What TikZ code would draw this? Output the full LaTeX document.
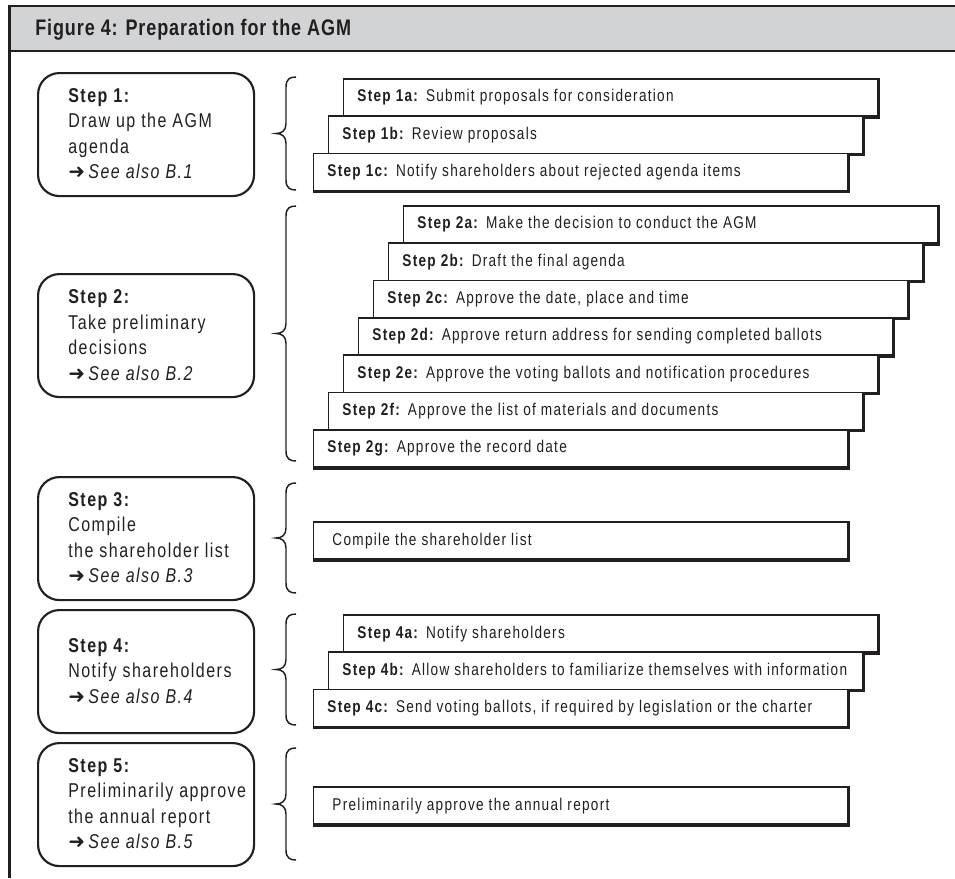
\documentclass[tikz,border=0pt]{standalone}
\usepackage{fontspec}
\setmainfont{Liberation Sans}[FakeStretch=0.8,LetterSpace=7.5]
\newfontfamily\titlefont{Liberation Sans}[FakeStretch=0.8,LetterSpace=4]
\newfontfamily\arrowfont{DejaVu Sans}
\definecolor{ink}{HTML}{231F20}
\definecolor{barfill}{HTML}{D1D3D4}

% "see also" reference line with a heavy arrow
\newcommand{\seealso}[1]{{\arrowfont ➜}\,\textit{See also #1}}
% text of a sub-step box, left aligned in a fixed-width slot
\newcommand{\substep}[2]{\makebox[379.5pt][l]{\textbf{#1} #2}}
% sub-step box with a heavier right and bottom edge
\newcommand{\subnode}[5]{%
  \node[subbox] (#1) at (#2,#3) {\substep{#4}{#5}};
  \draw[subshadow] ([xshift=0.6pt]#1.north east) -- ([xshift=0.6pt,yshift=-0.6pt]#1.south east) -- ([yshift=-0.6pt]#1.south west);
}
% curly brace opening to the right, from y=#1 to y=#2
\newcommand{\curlybrace}[2]{%
  \pgfmathsetmacro{\bmid}{(#1+#2)/2}
  \draw[bracestyle] (296,#1) .. controls (290,#1) and (286,#1+2) .. (286,#1+10)
    -- (286,\bmid-10) .. controls (286,\bmid-3) and (282,\bmid) .. (276,\bmid)
    .. controls (282,\bmid) and (286,\bmid+3) .. (286,\bmid+10)
    -- (286,#2-10) .. controls (286,#2-2) and (290,#2) .. (296,#2);
}

\tikzset{
  stepbox/.style={draw=ink, line width=1.6pt, rounded corners=16pt, minimum width=162pt,
    minimum height=92.25pt, inner sep=0pt, anchor=north west},
  steptext/.style={anchor=west, align=left, inner sep=0pt, text=ink,
    font=\fontsize{15}{19.1}\selectfont},
  subbox/.style={draw=ink, fill=white, line width=1.4pt, minimum height=28pt,
    inner xsep=10.5pt, inner ysep=0pt, anchor=north west, text=ink,
    font=\fontsize{12.75}{14}\selectfont},
  subshadow/.style={draw=ink, line width=1.2pt},
  bracestyle/.style={draw=ink, line width=1.1pt},
}

\begin{document}
\begin{tikzpicture}[x=0.75pt,y=-0.75pt]
\useasboundingbox (0,0) rectangle (955,878);

% frame and title bar
\fill[barfill] (9.5,6) rectangle (955,51);
\draw[ink, line width=1.9pt] (955,6) -- (9.5,6) -- (9.5,878);
\draw[ink, line width=1.9pt] (9.5,51) -- (955,51);
\node[anchor=base west, inner sep=0pt, text=ink,
  font=\titlefont\bfseries\fontsize{16.9}{19}\selectfont] (title) at (35,35)
  {Figure 4: Preparation for the AGM};

% main steps
\node[stepbox] (s1box) at (37,72) {};
\node[steptext] (s1text) at (68,133.5) {\textbf{Step 1:}\\Draw up the AGM\\agenda\\\seealso{B.1}};
\node[stepbox] (s2box) at (37,273) {};
\node[steptext] (s2text) at (68,335) {\textbf{Step 2:}\\Take preliminary\\decisions\\\seealso{B.2}};
\node[stepbox] (s3box) at (37,476) {};
\node[steptext] (s3text) at (68,537.5) {\textbf{Step 3:}\\Compile\\the shareholder list\\\seealso{B.3}};
\node[stepbox] (s4box) at (37,609) {};
\node[steptext] (s4text) at (68,671) {\textbf{Step 4:}\\Notify shareholders\\\seealso{B.4}};
\node[stepbox] (s5box) at (37,742) {};
\node[steptext] (s5text) at (68,803.5) {\textbf{Step 5:}\\Preliminarily approve\\the annual report\\\seealso{B.5}};

% braces
\curlybrace{77}{190}
\curlybrace{206}{461}
\curlybrace{483}{593}
\curlybrace{614}{725}
\curlybrace{748}{860}

% sub-steps of step 1
\subnode{s1a}{342.5}{78}{Step 1a:}{Submit proposals for consideration}
\subnode{s1b}{327.5}{115.3}{Step 1b:}{Review proposals}
\subnode{s1c}{312.5}{152.6}{Step 1c:}{Notify shareholders about rejected agenda items}

% sub-steps of step 2
\subnode{s2a}{402.5}{205}{Step 2a:}{Make the decision to conduct the AGM}
\subnode{s2b}{387.5}{242.3}{Step 2b:}{Draft the final agenda}
\subnode{s2c}{372.5}{279.6}{Step 2c:}{Approve the date, place and time}
\subnode{s2d}{357.5}{316.9}{Step 2d:}{Approve return address for sending completed ballots}
\subnode{s2e}{342.5}{354.2}{Step 2e:}{Approve the voting ballots and notification procedures}
\subnode{s2f}{327.5}{391.5}{Step 2f:}{Approve the list of materials and documents}
\subnode{s2g}{312.5}{428.8}{Step 2g:}{Approve the record date}

% step 3
\subnode{s3a}{312.5}{521}{}{Compile the shareholder list}

% sub-steps of step 4
\subnode{s4a}{342.5}{614}{Step 4a:}{Notify shareholders}
\subnode{s4b}{327.5}{651.3}{Step 4b:}{Allow shareholders to familiarize themselves with information}
\subnode{s4c}{312.5}{688.6}{Step 4c:}{Send voting ballots, if required by legislation or the charter}

% step 5
\subnode{s5a}{312.5}{786}{}{Preliminarily approve the annual report}
\end{tikzpicture}
\end{document}
